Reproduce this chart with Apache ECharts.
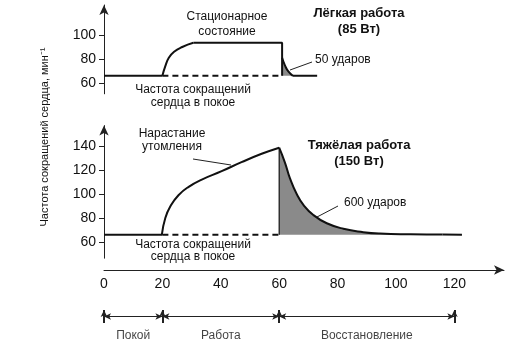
<!DOCTYPE html>
<html><head><meta charset="utf-8">
<script src="https://cdn.jsdelivr.net/npm/echarts@6/dist/echarts.min.js"></script>
<style>html,body{margin:0;padding:0;background:#fff}#c{width:530px;height:349px}</style>
</head><body><div id="c"></div>
<script>
// ---- data ----
const xTicks = [0, 20, 40, 60, 80, 100, 120];
const yTicksTop = [60, 80, 100];
const yTicksBottom = [60, 80, 100, 120, 140];
const restLevel = 66;

// Light work (85 W)
const lightRest = [[0, 66], [20, 66]];
const lightRise = [[20, 66], [21, 74], [22.2, 81], [24, 86], [26.8, 90], [30.6, 93.5]];
const lightPlateau = [[30.6, 93.5], [61, 93.5], [61, 66]];
const lightRecovery = [[61, 81], [62, 74.5], [63.2, 69.4], [64.7, 66]];
const lightAfter = [[64.7, 66], [73, 66]];
const lightDashed = [[20, 66], [61, 66]];

// Heavy work (150 W)
const heavyRest = [[0, 66], [20, 66]];
const heavyRise = [[19.8, 66], [21, 80], [22.8, 90], [25.5, 99], [29, 106], [33.5, 112], [40.3, 119], [47.1, 126.5], [54, 133.5], [60, 138.6]];
const heavyEdge = [[60, 66], [60, 138.6]];
const heavyRecovery = [[60, 138.6], [62, 126], [63.7, 113], [66, 100], [68.3, 91], [71.7, 82.5], [76.3, 75.6], [82, 71], [88.8, 68.2], [94.5, 67], [105, 66.4], [116, 66.2]];
const heavyAfter = [[116, 66.2], [122.6, 66]];
const heavyDashed = [[20, 66], [60, 66]];

// Phases
const phaseBounds = [0, 20, 60, 120];
const phaseNames = ['Покой', 'Работа', 'Восстановление'];

// Texts
const yTitle = 'Частота сокращений сердца, мин⁻¹';
const restText = 'Частота сокращений\nсердца в покое';
const steadyText = 'Стационарное\nсостояние';
const lightTitle = 'Лёгкая работа\n(85 Вт)';
const heavyTitle = 'Тяжёлая работа\n(150 Вт)';
const fatigueText = 'Нарастание\nутомления';
const lightBeats = '50 ударов';
const heavyBeats = '600 ударов';

// ---- chart ----
const FONT = '"Liberation Sans", Arial, sans-serif';
const INK = '#111';
const XMAX = 137;
const gridL = 104, gridW = 400;

function lineS(xi, data, opts) {
  return Object.assign({
    type: 'line', xAxisIndex: xi, yAxisIndex: xi, data: data, symbol: 'none',
    lineStyle: { color: INK, width: 2 }, silent: true, animation: false, z: 3
  }, opts || {});
}
const curveOpts = { smooth: 0.5 };

const phaseSeg = [];
for (let i = 0; i < phaseNames.length; i++) {
  phaseSeg.push([{ coord: [phaseBounds[i], 0.5] }, { coord: [phaseBounds[i + 1], 0.5] }]);
}
const phaseMid = phaseNames.map((n, i) => ({ value: [(phaseBounds[i] + phaseBounds[i + 1]) / 2, 0.5], name: n }));

const yAxisCommon = (gi, min, max, ticks) => ({
  type: 'value', gridIndex: gi, min: min, max: max,
  axisLine: { show: true, onZero: false, symbol: ['none', 'arrow'], symbolSize: [7, 10], lineStyle: { color: '#222', width: 1 } },
  axisTick: { show: true, length: 5, customValues: ticks, lineStyle: { color: '#222' } },
  axisLabel: { customValues: ticks, fontSize: 14, margin: 8, color: INK, fontFamily: FONT },
  splitLine: { show: false }
});
const hiddenX = gi => ({ type: 'value', gridIndex: gi, min: 0, max: XMAX, show: false });

const txt = (x, y, text, o) => ({
  type: 'text', x: x, y: y, silent: true,
  style: Object.assign({ text: text, fill: INK, font: '12px ' + FONT, align: 'center', verticalAlign: 'middle' }, o || {})
});
const lead = (x1, y1, x2, y2) => ({ type: 'line', silent: true, shape: { x1, y1, x2, y2 }, style: { stroke: '#222', lineWidth: 1 } });

const option = {
  animation: false,
  backgroundColor: '#fff',
  grid: [
    { left: gridL, width: gridW, top: 5, height: 88.8 },
    { left: gridL, width: gridW, top: 125.6, height: 132.6 },
    { left: gridL, width: gridW, top: 240, height: 30 },
    { left: gridL, width: gridW, top: 310, height: 13 }
  ],
  xAxis: [
    hiddenX(0), hiddenX(1),
    { type: 'value', gridIndex: 2, min: 0, max: XMAX,
      axisLine: { show: true, onZero: false, symbol: ['none', 'arrow'], symbolSize: [7, 10], lineStyle: { color: '#222', width: 1 } },
      axisTick: { show: false },
      axisLabel: { customValues: xTicks, fontSize: 14, margin: 7, color: INK, fontFamily: FONT },
      splitLine: { show: false } },
    hiddenX(3)
  ],
  yAxis: [
    yAxisCommon(0, 51, 125, yTicksTop),
    yAxisCommon(1, 46.5, 157, yTicksBottom),
    { type: 'value', gridIndex: 2, min: 0, max: 1, show: false },
    { type: 'value', gridIndex: 3, min: 0, max: 1, show: false }
  ],
  series: [
    // light work
    lineS(0, lightRecovery, Object.assign({ areaStyle: { color: '#8a8a8a', opacity: 1, origin: restLevel }, z: 2 }, curveOpts)),
    lineS(0, lightRest),
    lineS(0, lightRise, curveOpts),
    lineS(0, lightPlateau),
    lineS(0, lightAfter),
    lineS(0, lightDashed, { lineStyle: { color: INK, width: 2, type: [6, 4] } }),
    // heavy work
    lineS(1, heavyRecovery, Object.assign({ areaStyle: { color: '#8a8a8a', opacity: 1, origin: restLevel }, z: 2 }, curveOpts)),
    lineS(1, heavyRest),
    lineS(1, heavyRise, curveOpts),
    lineS(1, heavyEdge, { lineStyle: { color: INK, width: 1.2 } }),
    lineS(1, heavyAfter),
    lineS(1, heavyDashed, { lineStyle: { color: INK, width: 2, type: [6, 4] } }),
    // phase bar
    {
      type: 'scatter', xAxisIndex: 3, yAxisIndex: 3, data: phaseMid, symbolSize: 0, silent: true,
      label: { show: true, position: 'bottom', distance: 13, formatter: p => p.name, fontSize: 12, color: INK, fontFamily: FONT },
      markLine: {
        silent: true, animation: false, precision: 3,
        symbol: ['arrow', 'arrow'], symbolSize: [5, 7],
        label: { show: false },
        lineStyle: { color: '#222', width: 1, type: 'solid' },
        data: phaseSeg.concat(phaseBounds.map(b => ({ xAxis: b, symbol: 'none', lineStyle: { width: 2, color: '#222', type: 'solid' } })))
      }
    }
  ],
  graphic: [
    txt(45, 137, yTitle, { font: '11px ' + FONT }),
    txt(227, 24.5, steadyText, { lineHeight: 15 }),
    txt(359, 21, lightTitle, { font: 'bold 13px ' + FONT, lineHeight: 16 }),
    txt(315, 60, lightBeats, { align: 'left' }),
    txt(193, 96, restText, { lineHeight: 12.5 }),
    txt(172, 140.5, fatigueText, { lineHeight: 13 }),
    txt(359, 153.5, heavyTitle, { font: 'bold 13px ' + FONT, lineHeight: 16.5 }),
    txt(344, 203, heavyBeats, { align: 'left' }),
    txt(193, 250.5, restText, { lineHeight: 11.5 }),
    lead(312, 62, 290, 70),
    lead(193, 159, 231, 165),
    lead(338, 206, 317, 217)
  ]
};
option.graphic[0].rotation = Math.PI / 2;

const chart = echarts.init(document.getElementById('c'), null, { renderer: 'canvas' });
chart.setOption(option);
</script>
</body></html>
